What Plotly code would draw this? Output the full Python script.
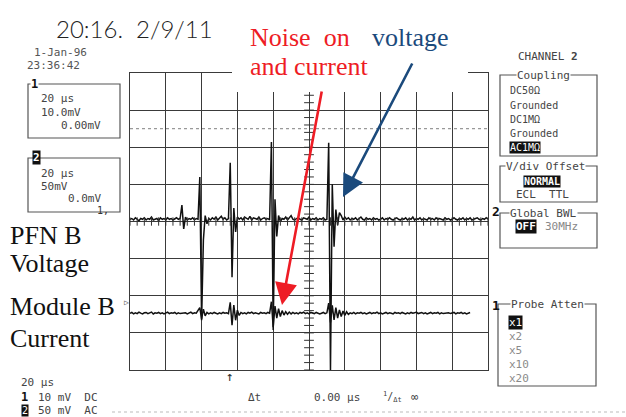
import plotly.graph_objects as go

# ---------------- data ----------------
# time axis: 20 us/div, 10 divisions, sampled every 1 us
t_start, t_stop = -100, 100
time_us = list(range(t_start, t_stop + 1))

# channel 2 : PFN B voltage (mV, 50 mV/div)
ch2_voltage_mv = [
    3, 4, 2, 5, 3, 1, 4, 3, 5, 2, 4, 3, 6, 2, 3, 4, 1, 5, 3, 4, 2, 5, 3, 4, 2, 3, 5, 3, 4,
    22, -10, 6, 2,
    4, 3, 5, 2, 4,
    3, 60, -133, -25, 8, -3,
    4, 2, 5, 3, 6, 2, 4, 7, 3, 5, 2, 4,
    79, -75, 18, -14, 6,
    3, 5, 2, 6, 4, 3, 7, 2, 5, 4, 3, 6, 2, 4, 5, 3, 4, 2,
    107, -146, 30, -20, 8, 0,
    4, 3, 6, 2, 5, 8, 3, 2, 4, 5, 3, 2, 5, 4, 3, 6, 2, 4, 3, 5, 2, 4, 3, 5, 2, 3,
    106, -200, 50, -34, 16, -5, 12, 8, 2, 6,
    3, 5, 2, 4, 3, 5, 2, 4, 6, 3, 2, 5, 3, 4, 2, 5, 3, 4, 2, 3,
    5, 2, 4, 3, 5, 3, 2, 4, 5, 3, 2, 4, 3, 5, 2, 4, 3, 6, 2, 4,
    3, 5, 2, 4, 3, 2, 5, 3, 4, 2, 5, 3, 4, 3, 2, 5, 3, 4, 2, 3,
    5, 3, 2, 4, 3, 5, 2, 4, 3, 5, 2, 3, 4, 5, 3, 2, 4, 3, 5, 3,
]

# channel 1 : Module B current (mV, 10 mV/div)
ch1_current_mv = [
    -24.7, -24.5, -24.9, -24.6, -24.8, -24.4, -24.7, -24.9, -24.6, -24.5,
    -24.8, -24.7, -24.4, -24.9, -24.6, -24.7, -24.5, -24.8, -24.6, -24.9,
    -24.7, -24.4, -24.8, -24.6, -24.7, -24.5, -24.9, -24.6, -24.8, -24.7,
    -24.5, -24.6, -24.9, -24.7, -24.4, -24.8, -24.6, -24.7,
    -24.0, -23.2, -26.3, -23.6, -25.4,
    -24.5, -24.9, -24.6, -24.8, -24.5, -24.7, -24.9, -24.6, -24.8, -24.5, -24.7, -24.6, -24.8,
    -21.8, -27.9, -22.5, -26.6, -23.9, -25.3,
    -24.5, -24.8, -24.6, -24.9, -24.5, -24.7, -24.4, -24.8, -24.6, -24.7, -24.9, -24.5,
    -24.7, -24.6, -24.8, -24.5, -24.7,
    -21.6, -28.5, -22.8, -26.0, -23.5, -25.6, -24.0, -25.2,
    -24.3, -25.0, -24.4, -24.9, -24.5, -24.8, -24.6, -24.9, -24.5, -24.7, -24.4, -24.8,
    -24.6, -24.9, -24.5, -24.7, -24.8, -24.5, -24.6, -24.9, -24.7, -24.5, -24.8, -24.6,
    -22.0, -27.2, -22.6, -26.5, -23.2, -26.0, -23.8, -25.6, -24.1, -25.3, -24.3, -25.0,
    -24.6, -24.8, -24.5, -24.9, -24.6, -24.7, -24.5, -24.8, -24.6, -24.9,
    -24.7, -24.5, -24.8, -24.6, -24.7, -24.4, -24.8, -24.6, -24.9, -24.7,
    -24.5, -24.8, -24.6, -24.7, -24.9, -24.5, -24.7, -24.6, -24.8, -24.5,
    -24.7, -24.9, -24.6, -24.8, -24.5, -24.7, -24.6, -24.4, -24.8, -24.7,
    -24.5, -24.8, -24.6, -24.9, -24.7, -24.5, -24.8, -24.6, -24.7, -24.5,
    -24.9, -24.6, -24.8, -24.7, -24.5, -24.6, -24.8, -24.7, -24.5, -24.9,
    -24.6, -24.7, -24.5, -24.8, -24.6, -24.9, -24.7, -24.5,
]

ch2_range = [-200, 200]   # 50 mV/div, 8 div
ch1_range = [-40, 40]     # 10 mV/div, 8 div
trigger_level_mv = 125    # dotted line

# ---------------- figure ----------------
W, H = 626, 417
MONO = "DejaVu Sans Mono"
SERIF = "Liberation Serif"
INK = "#2a2a2a"
GREY = "#8a8a8a"
RED = "#ee1c25"
BLUE = "#1b4a7c"


def px(x):
    return x / W


def py(y):
    return 1 - y / H


fig = go.Figure()

fig.add_trace(go.Scatter(x=time_us, y=ch2_voltage_mv, mode="lines",
                         line=dict(color="#111", width=1.5), hoverinfo="skip"))
fig.add_trace(go.Scatter(x=time_us, y=ch1_current_mv, mode="lines", yaxis="y2",
                         line=dict(color="#111", width=1.5), hoverinfo="skip"))

# minor ticks on the centre cross of the graticule
tick_x = [v for v in range(t_start, t_stop + 1, 4)]
tick_y = [v for v in range(ch2_range[0], ch2_range[1] + 1, 10)]
fig.add_trace(go.Scatter(x=tick_x, y=[0] * len(tick_x), mode="markers",
                         marker=dict(symbol="line-ns", size=6, line=dict(width=1, color="#333")),
                         hoverinfo="skip"))
fig.add_trace(go.Scatter(x=[0] * len(tick_y), y=tick_y, mode="markers",
                         marker=dict(symbol="line-ew", size=7, line=dict(width=1, color="#333")),
                         hoverinfo="skip"))
# dotted trigger-level line
fig.add_trace(go.Scatter(x=[t_start, t_stop], y=[trigger_level_mv] * 2, mode="lines",
                         line=dict(color="#999", width=1.2, dash="dot"), hoverinfo="skip"))

x0, x1 = 130, 488
y0, y1 = 73, 370
fig.update_layout(
    width=W, height=H, margin=dict(l=0, r=0, t=0, b=0),
    paper_bgcolor="white", plot_bgcolor="white", showlegend=False,
    xaxis=dict(domain=[px(x0), px(x1)], range=[t_start, t_stop], dtick=20,
               showgrid=True, gridcolor="#3a3a3a", gridwidth=1.2, zeroline=False,
               showticklabels=False, ticks="", showline=True, linecolor="#3a3a3a",
               linewidth=1.2, mirror=True),
    yaxis=dict(domain=[py(y1), py(y0)], range=ch2_range, dtick=50,
               showgrid=True, gridcolor="#3a3a3a", gridwidth=1.2, zeroline=False,
               showticklabels=False, ticks="", showline=True, linecolor="#3a3a3a",
               linewidth=1.2, mirror=True),
    yaxis2=dict(overlaying="y", range=ch1_range, visible=False),
)

shapes = []
annotations = []


def box(xa, ya, xb, yb, color="#555", width=1.2):
    shapes.append(dict(type="rect", xref="paper", yref="paper",
                       x0=px(xa), x1=px(xb), y0=py(yb), y1=py(ya),
                       line=dict(color=color, width=width), layer="above"))


def txt(x, y, text, size=11, color=INK, family=MONO, xanchor="left",
        yanchor="middle", bg=None, pad=0, weight=None):
    f = dict(size=size, color=color, family=family)
    if weight:
        f["weight"] = weight
    a = dict(x=px(x), y=py(y), xref="paper", yref="paper", text=text,
             showarrow=False, xanchor=xanchor, yanchor=yanchor,
             font=f, borderpad=pad)
    if bg:
        a["bgcolor"] = bg
    annotations.append(a)


# white patch behind annotation text (covers top of graticule)
shapes.append(dict(type="rect", xref="paper", yref="paper",
                   x0=px(232), x1=px(468), y0=py(92), y1=py(18),
                   fillcolor="white", line=dict(width=0), layer="above"))

# handwritten date
txt(55, 28, "20:16.  2/9/11", size=24, color="#222", family="Lato, DejaVu Sans", weight=300)

# scope date/time
txt(33, 52, "1-Jan-96", size=11, color="#555")
txt(26, 65, "23:36:42", size=11, color="#555")

# channel 1 box
box(28, 84, 120, 138)
txt(30, 84, "<b>1</b>", size=12, color="#111", bg="white")
txt(40, 99, "20 µs", size=11, color="#444")
txt(40, 112, "10.0mV", size=11, color="#444")
txt(60, 125, "0.00mV", size=11, color="#444")

# channel 2 box
box(28, 158, 120, 212)
txt(32, 157, "<b>2</b>", size=11, color="white", bg="#111")
txt(40, 173, "20 µs", size=11, color="#444")
txt(40, 186, "50mV", size=11, color="#444")
txt(67, 199, "0.0mV", size=11, color="#444")

# trace markers
txt(96, 211, "1,", size=10, color="#333")
txt(123, 302, "▷", size=8, color="#555")
txt(491, 212, "<b>2</b>", size=13, color="#111")
txt(491, 305, "<b>1</b>", size=13, color="#111")

# right side menus
txt(517, 56, "CHANNEL <b>2</b>", size=11, color="#444")
box(500, 75, 597, 156)
txt(543, 75, "Coupling", size=11, color="#444", xanchor="center", bg="white")
txt(509, 91, "DC50Ω", size=10, color="#444")
txt(509, 105, "Grounded", size=10, color="#444")
txt(509, 119, "DC1MΩ", size=10, color="#444")
txt(509, 133, "Grounded", size=10, color="#444")
txt(509, 147, "AC1MΩ", size=10, color="white", bg="#111")

box(500, 166, 597, 202)
txt(545, 166, "V/div Offset", size=11, color="#444", xanchor="center", bg="white")
txt(523, 181, "<b>NORMAL</b>", size=10, color="white", bg="#111")
txt(515, 194, "ECL  TTL", size=11, color="#444")

box(500, 213, 597, 248)
txt(543, 213, "Global BWL", size=11, color="#444", xanchor="center", bg="white")
txt(515, 227, "<b>OFF</b>", size=11, color="white", bg="#111")
txt(544, 227, "30MHz", size=11, color="#888")

box(498, 304, 596, 386)
txt(547, 304, "Probe Atten", size=11, color="#444", xanchor="center", bg="white")
txt(508, 322, "x1", size=11, color="white", bg="#111")
txt(508, 336, "x2", size=11, color=GREY)
txt(508, 350, "x5", size=11, color=GREY)
txt(508, 364, "x10", size=11, color=GREY)
txt(508, 378, "x20", size=11, color=GREY)

# bottom status lines
txt(20, 382, "20 µs", size=11, color="#444")
txt(20, 397, "<b>1</b>", size=12, color="#111")
txt(37, 397, "10 mV  DC", size=11, color="#444")
txt(21, 410, "2", size=10, color="white", bg="#111")
txt(37, 410, "50 mV  AC", size=11, color="#444")
txt(247, 397, "Δt", size=11, color="#444")
txt(313, 397, "0.00 µs", size=11, color="#444")
txt(382, 397, "<sup>1</sup>/<sub>Δt</sub>", size=10, color="#444")
txt(410, 397, "∞", size=12, color="#444")
txt(230, 376, "↑", size=13, color="#333", xanchor="center")
shapes.append(dict(type="line", xref="paper", yref="paper",
                   x0=px(112), x1=px(626), y0=py(412), y1=py(412),
                   line=dict(color="#bbb", width=1, dash="dot"), layer="above"))

# black labels
txt(9, 235, "PFN B", size=26, color="#111", family=SERIF)
txt(9, 263, "Voltage", size=26, color="#111", family=SERIF)
txt(9, 306, "Module B", size=26, color="#111", family=SERIF)
txt(9, 338, "Current", size=26, color="#111", family=SERIF)

# coloured annotation text
txt(249, 37, "Noise  on", size=26, color=RED, family=SERIF)
txt(371, 37, "voltage", size=26, color=BLUE, family=SERIF)
txt(249, 66, "and current", size=26, color=RED, family=SERIF)

# arrows
annotations.append(dict(x=px(282), y=py(305), xref="paper", yref="paper", text="",
                        showarrow=True, ax=322 - 282, ay=90 - 305,
                        arrowcolor=RED, arrowwidth=2.6, arrowhead=2, arrowsize=1.7))
annotations.append(dict(x=px(343), y=py(197), xref="paper", yref="paper", text="",
                        showarrow=True, ax=413 - 343, ay=62 - 197,
                        arrowcolor=BLUE, arrowwidth=2.6, arrowhead=2, arrowsize=1.7))

fig.update_layout(shapes=shapes, annotations=annotations)
fig.write_html("out.html")
